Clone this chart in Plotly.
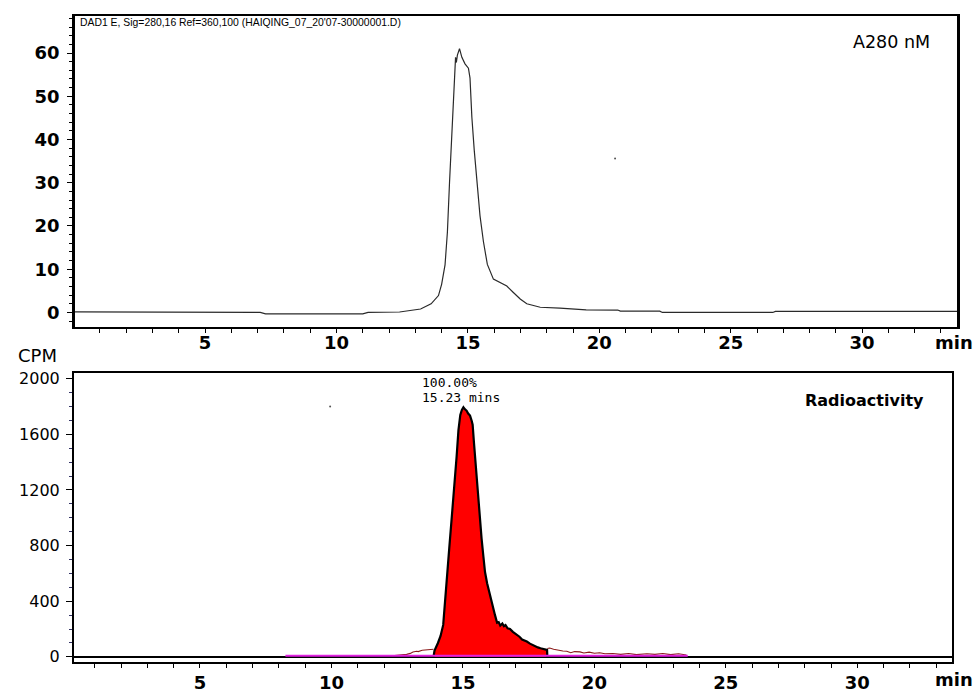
import plotly.graph_objects as go

# ---------------- data ----------------
# Top panel: A280 absorbance trace (time in min, signal)
a280_t = [0.05, 1.0, 2.0, 3.9, 4.0, 7.1, 7.3, 11.0, 11.2, 12.4, 13.2, 13.6, 13.88, 14.0, 14.13,
          14.22, 14.30, 14.39, 14.47, 14.50, 14.53, 14.56, 14.60, 14.68, 14.77, 14.89, 15.02,
          15.08, 15.15, 15.24, 15.34, 15.46, 15.59, 15.74, 15.97, 16.22, 16.48, 16.73, 16.99,
          17.24, 17.75, 18.5, 19.5, 20.7, 20.8, 22.3, 22.4, 26.6, 26.7, 33.61]
a280_v = [0.15, 0.15, 0.15, 0.15, 0.0, 0.0, -0.35, -0.35, 0.0, 0.1, 0.8, 2.0, 3.9, 6.5, 11.0,
          18.6, 30.0, 41.4, 52.7, 57.5, 59.0, 57.8, 59.5, 61.0, 59.0, 57.5, 56.5,
          54.2, 45.2, 37.6, 30.0, 22.4, 16.4, 11.1, 7.7, 6.9, 6.1, 4.6, 3.1,
          2.0, 1.2, 1.0, 0.6, 0.55, 0.3, 0.3, 0.0, 0.0, 0.25, 0.25]

# Stray detector specks visible in the picture
speck_top_t = [20.6]
speck_top_v = [35.6]
speck_bot_t = [9.95]
speck_bot_v = [1800]

# Bottom panel: radioactivity peak (CPM)
peak_t = [13.88, 13.92, 14.05, 14.15, 14.25, 14.32, 14.40, 14.48, 14.57, 14.67, 14.76, 14.83,
          14.90, 14.96, 15.02, 15.08, 15.14, 15.20, 15.27, 15.33, 15.37, 15.42, 15.46, 15.51,
          15.55, 15.60, 15.65, 15.71, 15.78, 15.84, 15.92, 16.03, 16.12, 16.22, 16.30, 16.36,
          16.42, 16.50, 16.56, 16.62, 16.70, 16.79, 16.90, 17.05, 17.15, 17.25, 17.35, 17.43,
          17.55, 17.65, 17.74, 17.85, 17.95, 18.05, 18.15, 18.20, 18.21]
peak_v = [0, 45, 100, 150, 230, 380, 560, 780, 990, 1210, 1440, 1630,
          1740, 1775, 1795, 1780, 1770, 1750, 1735, 1700, 1670, 1540, 1440, 1320,
          1200, 1080, 970, 850, 720, 610, 530, 440, 360, 300, 245, 250,
          225, 240, 220, 228, 205, 200, 180, 160, 145, 125, 118, 110,
          95, 85, 76, 68, 62, 55, 52, 50, 0]

# Raw radioactivity trace outside the integrated region
raw_t = [12.3, 12.5, 12.7, 12.86, 13.0, 13.1, 13.24, 13.3, 13.45, 13.62, 13.8, 13.88, None,
         18.21, 18.3, 18.45, 18.6, 18.8, 18.95, 19.1, 19.25, 19.45, 19.6, 19.8, 20.0, 20.2,
         20.4, 20.7, 21.0, 21.3, 21.6, 22.0, 22.3, 22.6, 22.9, 23.2, 23.5]
raw_v = [8, 10, 12, 18, 25, 35, 40, 38, 48, 52, 52, 55, None,
         60, 64, 55, 48, 42, 40, 30, 38, 36, 28, 34, 26, 30,
         22, 24, 18, 24, 16, 22, 18, 24, 16, 22, 14]

# Integration baseline
base_t = [8.25, 23.55]
base_v = [8, 8]

# Axis ticks
x_ticks = [5, 10, 15, 20, 25, 30]
top_y_ticks = [0, 10, 20, 30, 40, 50, 60]
bot_y_ticks = [0, 400, 800, 1200, 1600, 2000]

header = "DAD1 E, Sig=280,16 Ref=360,100 (HAIQING_07_20'07-30000001.D)"

# ---------------- figure ----------------
W, H = 979, 696
px = lambda v: v / W
py = lambda v: 1 - v / H

fig = go.Figure()

fig.add_trace(go.Scatter(x=a280_t, y=a280_v, mode="lines",
                         line=dict(color="#2a2a2a", width=1.2),
                         xaxis="x", yaxis="y", showlegend=False))
fig.add_trace(go.Scatter(x=speck_top_t, y=speck_top_v, mode="markers",
                         marker=dict(color="#555555", size=2),
                         xaxis="x", yaxis="y", showlegend=False))

fig.add_trace(go.Scatter(x=raw_t, y=raw_v, mode="lines",
                         line=dict(color="#8B1A1A", width=1.1),
                         xaxis="x2", yaxis="y2", showlegend=False, connectgaps=False))

fig.add_trace(go.Scatter(x=peak_t, y=peak_v, mode="lines", fill="tozeroy",
                         fillcolor="#FF0000", line=dict(color="black", width=2.2),
                         xaxis="x2", yaxis="y2", showlegend=False))

fig.add_trace(go.Scatter(x=base_t, y=base_v, mode="lines",
                         line=dict(color="#E020E0", width=2),
                         xaxis="x2", yaxis="y2", showlegend=False))
fig.add_trace(go.Scatter(x=speck_bot_t, y=speck_bot_v, mode="markers",
                         marker=dict(color="#555555", size=2),
                         xaxis="x2", yaxis="y2", showlegend=False))

bold_tick = dict(family="DejaVu Sans", size=18, color="black", weight="bold")

common_x = dict(showline=True, mirror=True, linecolor="black", linewidth=2,
                ticks="outside", ticklen=4, tickcolor="black", tickwidth=1,
                tickvals=x_ticks, showgrid=False, zeroline=False,
                minor=dict(dtick=1, tick0=0, ticks="outside", ticklen=4,
                           tickcolor="black", showgrid=False),
                tickfont=bold_tick)

fig.update_layout(
    width=W, height=H,
    margin=dict(l=0, r=0, t=0, b=0),
    paper_bgcolor="white", plot_bgcolor="white",
    xaxis=dict(domain=[px(75), px(957)], range=[0.05, 33.61], anchor="y",
               ticklabelstandoff=-6, **common_x),
    yaxis=dict(domain=[py(327.5), py(12)], range=[-3.43, 68.6], anchor="x",
               showline=True, mirror=True, linecolor="black", linewidth=2.5,
               ticks="outside", ticklen=5, tickcolor="black",
               tickvals=top_y_ticks, showgrid=False, zeroline=False,
               minor=dict(dtick=2, tick0=0, ticks="outside", ticklen=3,
                          tickcolor="black", showgrid=False),
               tickfont=bold_tick, ticklabelstandoff=4),
    xaxis2=dict(domain=[px(74), px(951.5)], range=[0.21, 33.58], anchor="y2",
                ticklabelstandoff=0, **common_x),
    yaxis2=dict(domain=[py(666.5), py(374)], range=[-36, 2040], anchor="x2",
                showline=True, mirror=True, linecolor="black", linewidth=2,
                ticks="outside", ticklen=6, tickcolor="black",
                tickvals=bot_y_ticks, showgrid=False,
                zeroline=True, zerolinecolor="black", zerolinewidth=1.5,
                minor=dict(dtick=100, tick0=0, ticks="outside", ticklen=3,
                           tickcolor="#333366", showgrid=False),
                tickfont=dict(family="DejaVu Sans", size=16, color="black"),
                ticklabelstandoff=3),
)

ann = [
    dict(text=header, x=px(78), y=py(19), xanchor="left", yanchor="middle",
         font=dict(family="Liberation Sans", size=10.4, color="black")),
    dict(text="A280 nM", x=px(851), y=py(38), xanchor="left", yanchor="middle",
         font=dict(family="DejaVu Sans", size=17.5, color="black")),
    dict(text="min", x=px(975), y=py(343), xanchor="right", yanchor="middle",
         font=dict(family="DejaVu Sans", size=18, color="black", weight="bold")),
    dict(text="CPM", x=px(16), y=py(356), xanchor="left", yanchor="middle",
         font=dict(family="DejaVu Sans", size=18, color="black")),
    dict(text="Radioactivity", x=px(803), y=py(402), xanchor="left", yanchor="middle",
         font=dict(family="DejaVu Sans", size=16, color="black", weight="bold")),
    dict(text="100.00%", x=px(420), y=py(383), xanchor="left", yanchor="middle",
         font=dict(family="DejaVu Sans Mono", size=13, color="black")),
    dict(text="15.23 mins", x=px(420), y=py(399), xanchor="left", yanchor="middle",
         font=dict(family="DejaVu Sans Mono", size=13, color="black")),
    dict(text="min", x=px(975), y=py(684), xanchor="right", yanchor="middle",
         font=dict(family="DejaVu Sans", size=18, color="black", weight="bold")),
]
for a in ann:
    a.update(xref="paper", yref="paper", showarrow=False)
fig.update_layout(annotations=ann)

fig.write_html("out.html", config={"displayModeBar": False},
               post_script="document.body.style.margin='0px';document.body.style.padding='0px';")
